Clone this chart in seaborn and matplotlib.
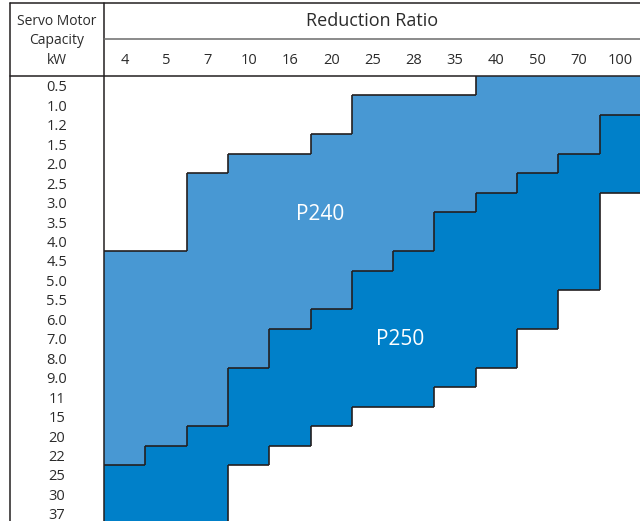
import numpy as np
import pandas as pd
import matplotlib.pyplot as plt
import matplotlib.transforms as mtransforms
import seaborn as sns
from matplotlib.colors import ListedColormap
from matplotlib.collections import LineCollection

# Selection table: reduction ratio (columns) vs servo motor capacity (rows)
ratios = ['4', '5', '7', '10', '16', '20', '25', '28', '35', '40', '50', '70', '100']
capacities = ['0.5', '1.0', '1.2', '1.5', '2.0', '2.5', '3.0', '3.5', '4.0', '4.5',
              '5.0', '5.5', '6.0', '7.0', '8.0', '9.0', '11', '15', '20', '22',
              '25', '30', '37']

# smallest capacity covered by P240 for each ratio
p240_from = ['4.5', '4.5', '2.5', '2.0', '2.0', '1.5', '1.0', '1.0', '1.0',
             '0.5', '0.5', '0.5', '0.5']
# P250 range (first / last capacity) for each ratio
p250_from = ['25', '22', '20', '9.0', '7.0', '6.0', '5.0', '4.5', '3.5',
             '3.0', '2.5', '2.0', '1.2']
p250_to = ['37', '37', '37', '22', '20', '15', '11', '11', '9.0',
           '8.0', '6.0', '5.0', '2.5']

light = '#4898d3'
dark = '#0080c9'
line_col = '#231f20'
text_col = '#2b2b2b'

# build the category grid: 0 = none, 1 = P240, 2 = P250
grid = np.zeros((len(capacities), len(ratios)), dtype=int)
for j in range(len(ratios)):
    a = capacities.index(p240_from[j])
    b = capacities.index(p250_from[j])
    c = capacities.index(p250_to[j])
    grid[a:b, j] = 1
    grid[b:c + 1, j] = 2
df = pd.DataFrame(grid, index=capacities, columns=ratios)

sns.set_style('white')
plt.rcParams['font.family'] = ['Open Sans', 'DejaVu Sans']

W, H = 640, 521
fig = plt.figure(figsize=(W / 100, H / 100), dpi=100)
ax = fig.add_axes([104 / W, (H - 523.5) / H, 537 / W, 447.5 / H])

sns.heatmap(df, ax=ax, cmap=ListedColormap(['white', light, dark]),
            vmin=-0.5, vmax=2.5, cbar=False, linewidths=0)

# step outlines between the regions
segs = []
nr, nc = grid.shape
for i in range(nr - 1):
    for j in range(nc):
        if grid[i, j] != grid[i + 1, j]:
            segs.append([(j, i + 1), (j + 1, i + 1)])
for i in range(nr):
    for j in range(nc - 1):
        if grid[i, j] != grid[i, j + 1]:
            segs.append([(j + 1, i), (j + 1, i + 1)])
ax.add_collection(LineCollection(segs, colors=line_col, linewidths=1.2))

ax.xaxis.tick_top()
ax.tick_params(axis='x', length=0, pad=6, labelsize=10.5, colors=text_col)
ax.tick_params(axis='y', length=0, pad=34, labelsize=10.5, colors=text_col)
ax.set_xticklabels(ratios, rotation=0)
ax.set_yticklabels(capacities, rotation=0)
shift = mtransforms.ScaledTranslation(0, -1.5 / 72, fig.dpi_scale_trans)
for lab in ax.get_yticklabels():
    lab.set_ha('center')
    lab.set_va('center')
    lab.set_transform(lab.get_transform() + shift)
ax.set_xlabel('')
ax.set_ylabel('')
for s in ax.spines.values():
    s.set_visible(False)

ax.text(5.23, 7.14, 'P240', color='white', fontsize=15, ha='center', va='center')
ax.text(7.17, 13.55, 'P250', color='white', fontsize=15, ha='center', va='center')

# header frame
ov = fig.add_axes([0, 0, 1, 1], facecolor='none')
ov.set_xlim(0, W)
ov.set_ylim(H, 0)
ov.axis('off')
ov.plot([10, W], [3, 3], color=line_col, lw=1.1)
ov.plot([10, 10], [3, H], color=line_col, lw=1.1)
ov.plot([104, 104], [3, H], color=line_col, lw=1.1)
ov.plot([10, W], [76, 76], color=line_col, lw=1.1)
ov.plot([104, W], [39, 39], color='#6b6b6b', lw=1.1)

fig.text(372 / W, 1 - 21 / H, 'Reduction Ratio', fontsize=13, color=text_col,
         ha='center', va='center')
fig.text(57 / W, 1 - 41 / H, 'Servo Motor\nCapacity\nkW', fontsize=10,
         color=text_col, ha='center', va='center', linespacing=1.45)

fig.savefig('out.png', dpi=100)
